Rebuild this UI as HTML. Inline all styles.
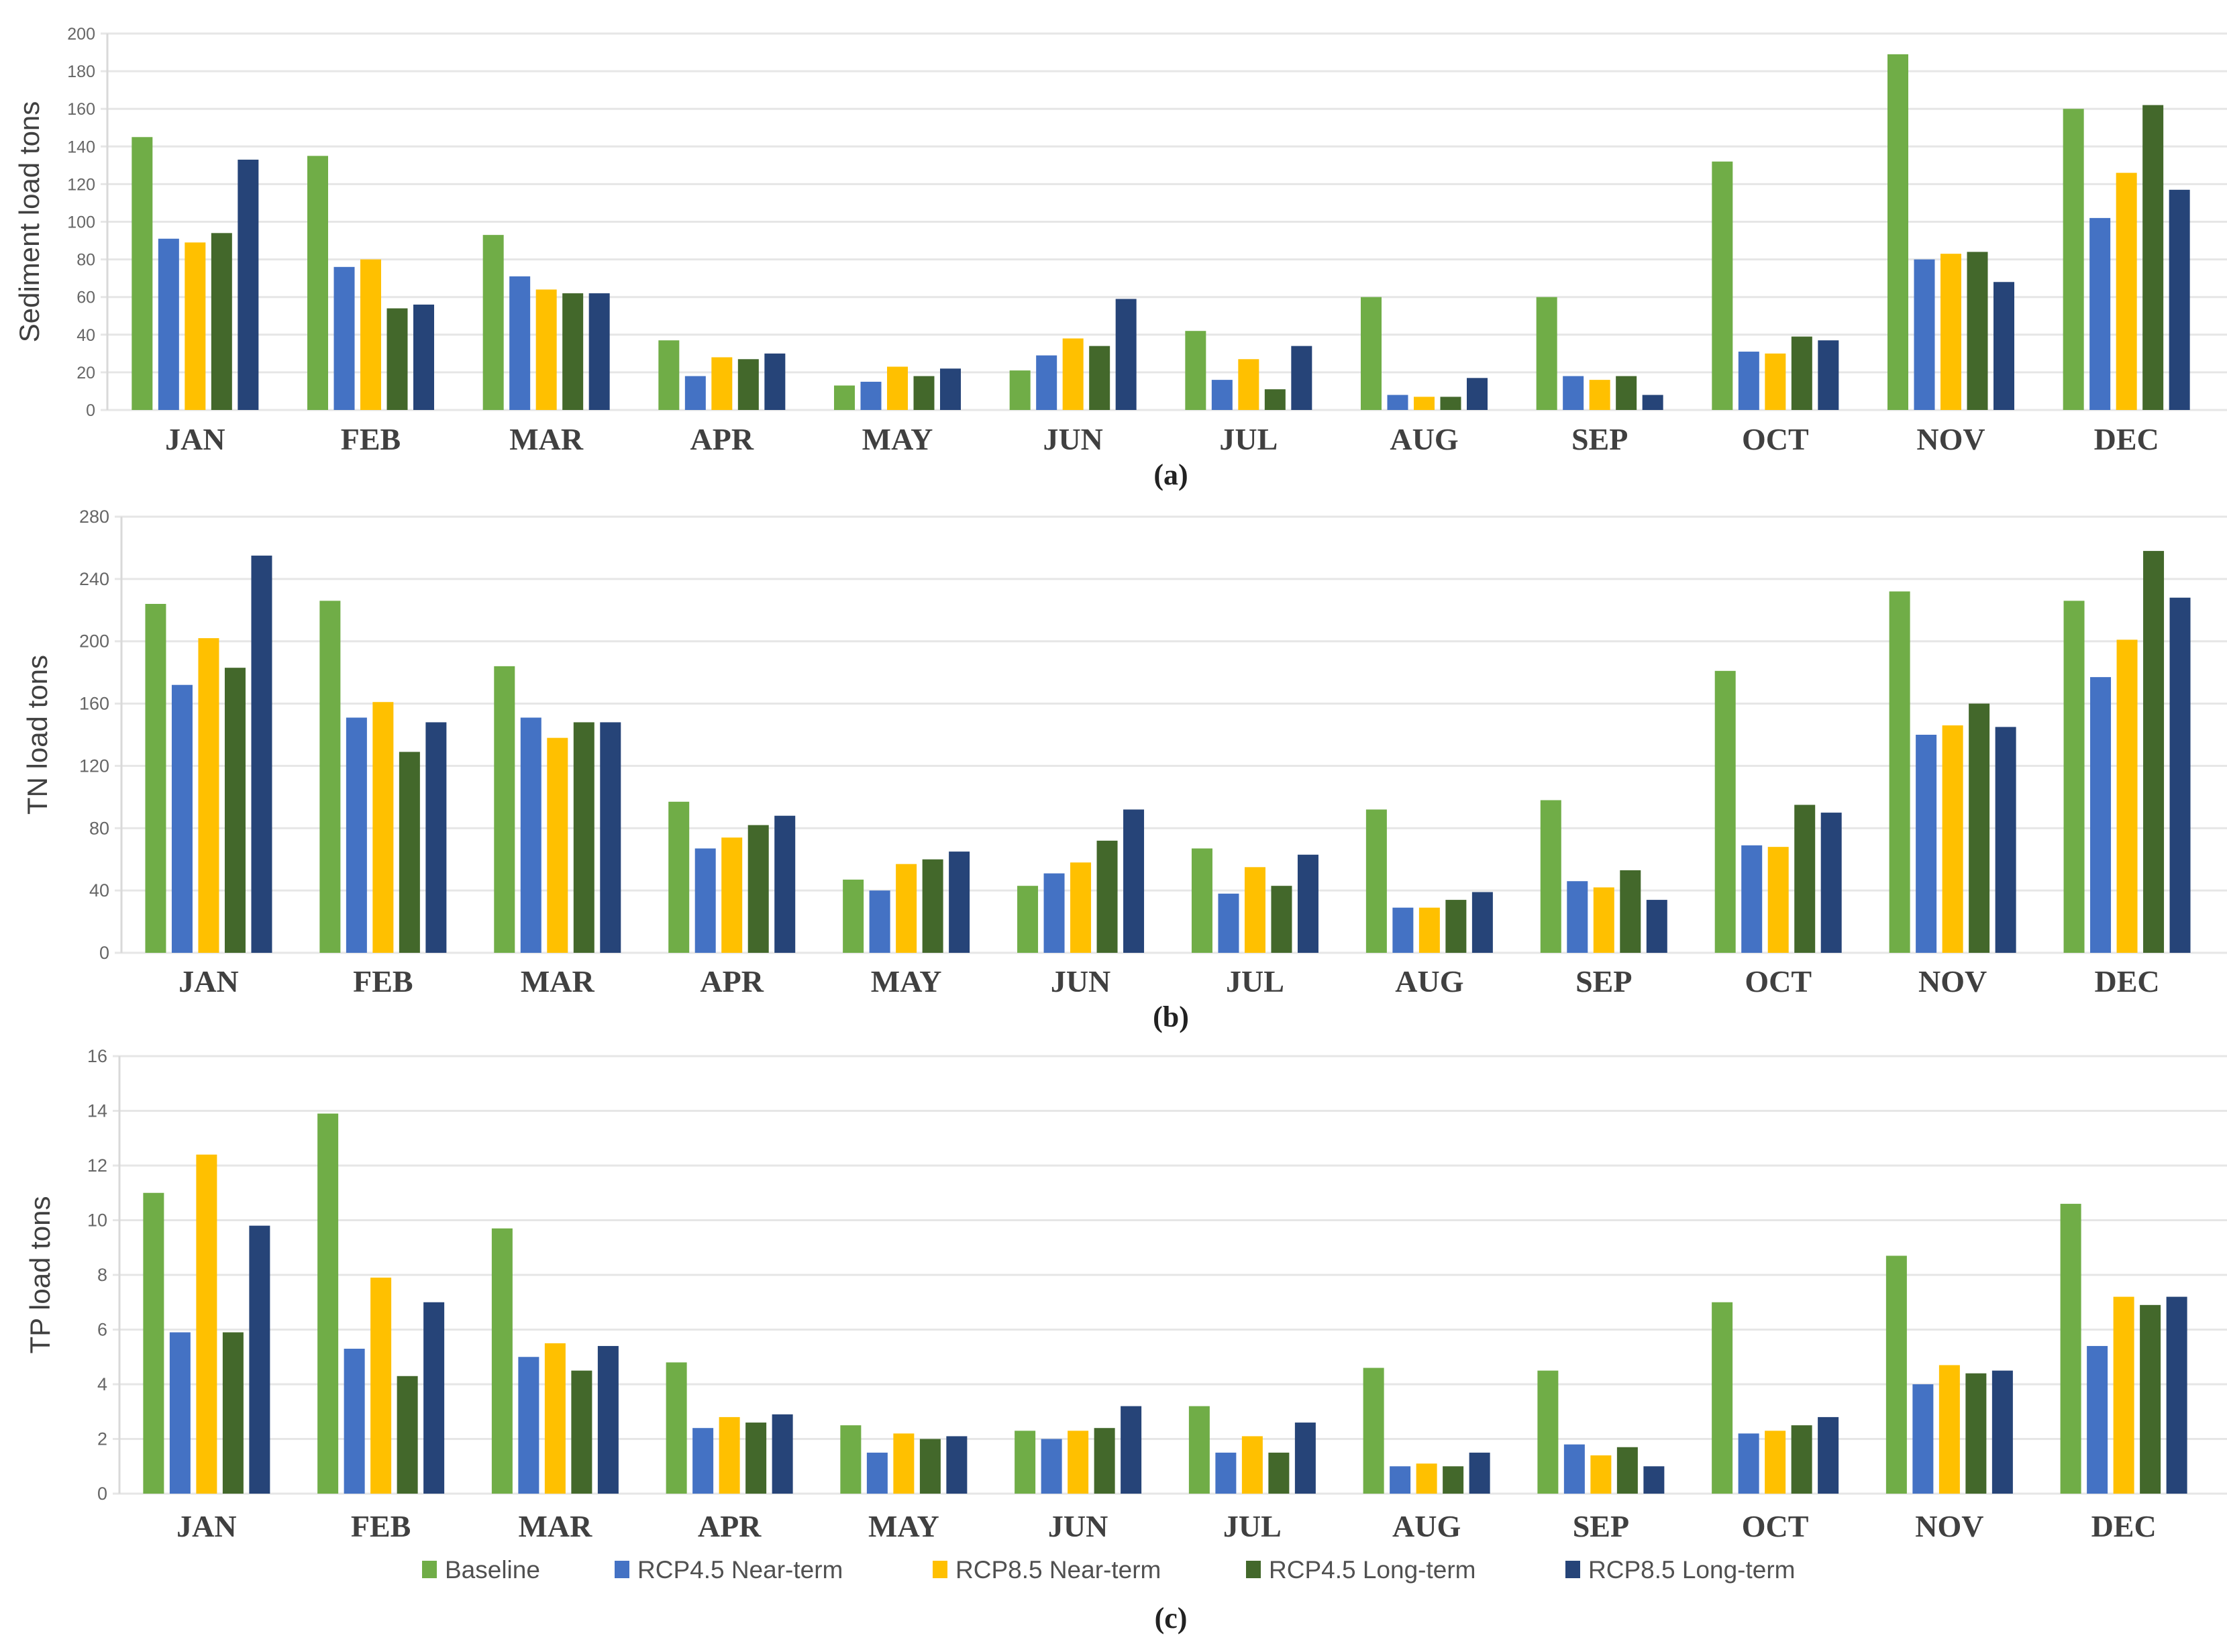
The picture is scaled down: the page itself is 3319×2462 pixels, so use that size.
<!DOCTYPE html>
<html><head><meta charset="utf-8"><style>
html,body{margin:0;padding:0;background:#fff;}
svg{display:block;}
</style></head><body>
<svg id="chart" width="3319" height="2462" viewBox="0 0 3319 2462" xmlns="http://www.w3.org/2000/svg"></svg>
<script>
const months = ["JAN","FEB","MAR","APR","MAY","JUN","JUL","AUG","SEP","OCT","NOV","DEC"];
const seriesNames = ["Baseline","RCP4.5 Near-term","RCP8.5 Near-term","RCP4.5 Long-term","RCP8.5 Long-term"];
const sedBaseline = [145,135,93,37,13,21,42,60,60,132,189,160];
const sedRcp45Near = [91,76,71,18,15,29,16,8,18,31,80,102];
const sedRcp85Near = [89,80,64,28,23,38,27,7,16,30,83,126];
const sedRcp45Long = [94,54,62,27,18,34,11,7,18,39,84,162];
const sedRcp85Long = [133,56,62,30,22,59,34,17,8,37,68,117];
const sedTicks = [0,20,40,60,80,100,120,140,160,180,200];
const tnBaseline = [224,226,184,97,47,43,67,92,98,181,232,226];
const tnRcp45Near = [172,151,151,67,40,51,38,29,46,69,140,177];
const tnRcp85Near = [202,161,138,74,57,58,55,29,42,68,146,201];
const tnRcp45Long = [183,129,148,82,60,72,43,34,53,95,160,258];
const tnRcp85Long = [255,148,148,88,65,92,63,39,34,90,145,228];
const tnTicks = [0,40,80,120,160,200,240,280];
const tpBaseline = [11.0,13.9,9.7,4.8,2.5,2.3,3.2,4.6,4.5,7.0,8.7,10.6];
const tpRcp45Near = [5.9,5.3,5.0,2.4,1.5,2.0,1.5,1.0,1.8,2.2,4.0,5.4];
const tpRcp85Near = [12.4,7.9,5.5,2.8,2.2,2.3,2.1,1.1,1.4,2.3,4.7,7.2];
const tpRcp45Long = [5.9,4.3,4.5,2.6,2.0,2.4,1.5,1.0,1.7,2.5,4.4,6.9];
const tpRcp85Long = [9.8,7.0,5.4,2.9,2.1,3.2,2.6,1.5,1.0,2.8,4.5,7.2];
const tpTicks = [0,2,4,6,8,10,12,14,16];

const colors = ["#70ad47","#4472c4","#ffc000","#43682b","#264478"];
const NS = "http://www.w3.org/2000/svg";
const svg = document.getElementById("chart");
function mk(tag, attrs, parent){const e=document.createElementNS(NS,tag);for(const k in attrs)e.setAttribute(k,attrs[k]);(parent||svg).appendChild(e);return e;}

const panels = [
 {key:"sediment",title:"Sediment load tons",series:[sedBaseline,sedRcp45Near,sedRcp85Near,sedRcp45Long,sedRcp85Long],ticks:sedTicks,max:200,left:160,right:3300,top:50,bottom:611,titleX:58,labY:670,capY:722,cap:"(a)",tickFs:25},
 {key:"tn",title:"TN load tons",series:[tnBaseline,tnRcp45Near,tnRcp85Near,tnRcp45Long,tnRcp85Long],ticks:tnTicks,max:280,left:181,right:3300,top:770,bottom:1420,titleX:70,labY:1478,capY:1530,cap:"(b)",tickFs:27},
 {key:"tp",title:"TP load tons",series:[tpBaseline,tpRcp45Near,tpRcp85Near,tpRcp45Long,tpRcp85Long],ticks:tpTicks,max:16,left:178,right:3295,top:1574,bottom:2226,titleX:74,labY:2290,capY:2426,cap:"(c)",tickFs:27}
];

panels.forEach(p=>{
  const g = mk("g",{});
  
  
  const y = v => p.bottom - (v/p.max)*(p.bottom-p.top);
  const step = (p.right-p.left)/months.length;
  const xc = i => p.left + step*(i+0.5);
  p.ticks.forEach(t=>{
    const gl = mk("line",{x1:p.left-10,x2:p.right+25,y1:y(t),y2:y(t),stroke:"#e6e6e6","stroke-width":3},g);
    
    
    const tl = mk("text",{x:p.left-18,y:y(t)+9,"text-anchor":"end","font-family":"Liberation Sans, sans-serif","font-size":p.tickFs,fill:"#666"},g);
    tl.textContent = t;
    
    
  });
  const ax = mk("line",{x1:p.left,x2:p.left,y1:p.top,y2:p.bottom,stroke:"#d9d9d9","stroke-width":3},g);
  
  
  const bw = 31, bs = 39.5;
  months.forEach((m,i)=>{
    p.series.forEach((s,k)=>{
      const x0 = xc(i) - (bs*4+bw)/2 + k*bs;
      const r = mk("rect",{x:x0,y:y(s[i]),width:bw,height:p.bottom-y(s[i]),fill:colors[k]},g);
      
      
    });
    const ml = mk("text",{x:xc(i),y:p.labY,"text-anchor":"middle","font-family":"Liberation Serif, serif","font-weight":"bold","font-size":46,fill:"#404040"},g);
    ml.textContent = m;
    
    
  });
  const cy = (p.top+p.bottom)/2;
  const yt = mk("text",{x:p.titleX,y:cy,"text-anchor":"middle","font-family":"Liberation Sans, sans-serif","font-size":42,fill:"#404040",transform:"rotate(-90 "+p.titleX+" "+cy+")"},g);
  yt.textContent = p.title;
  
  
  const cp = mk("text",{x:1745,y:p.capY,"text-anchor":"middle","font-family":"Liberation Serif, serif","font-weight":"bold","font-size":44,fill:"#222"},g);
  cp.textContent = p.cap;
  
  
});

const legX = [629,916,1390,1857,2333];
const lg = mk("g",{});


seriesNames.forEach((n,k)=>{
  const sw = mk("rect",{x:legX[k],y:2326,width:22,height:26,fill:colors[k]},lg);
  
  
  const t = mk("text",{x:legX[k]+34,y:2352,"font-family":"Liberation Sans, sans-serif","font-size":37,fill:"#505050"},lg);
  t.textContent = n;
  
  
});
</script>
</body></html>
